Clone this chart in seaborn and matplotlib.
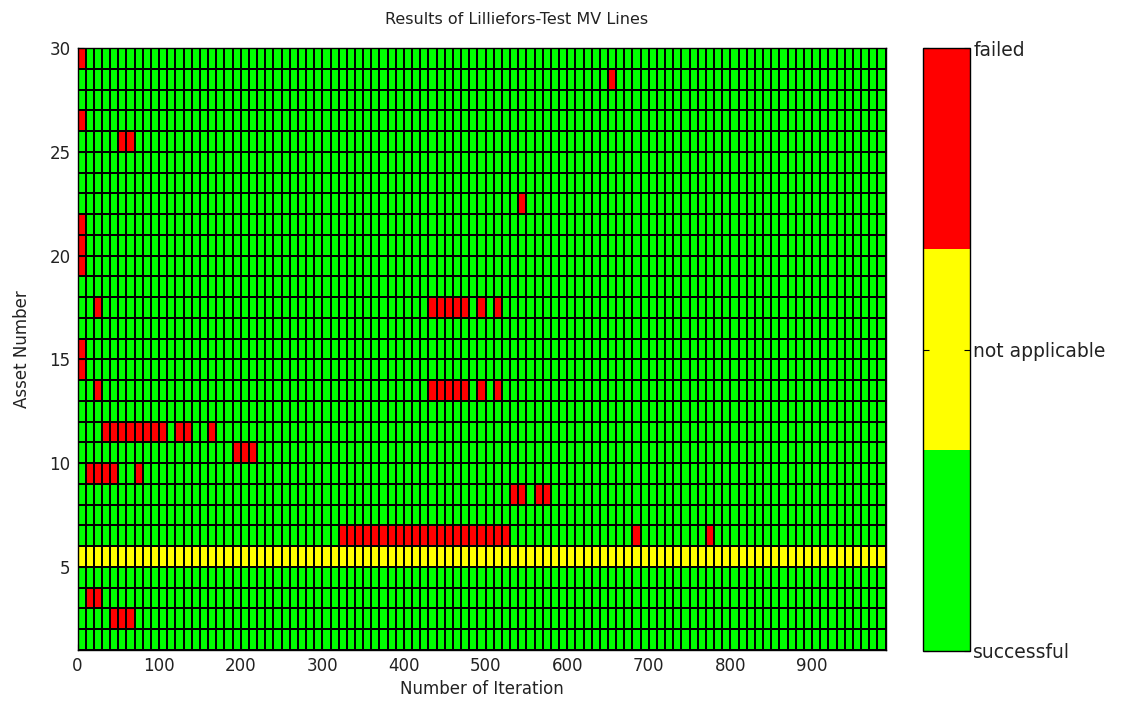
import numpy as np
import pandas as pd
import matplotlib
matplotlib.use("Agg")
import matplotlib.pyplot as plt
import seaborn as sns
from matplotlib.colors import ListedColormap

# ---- data -------------------------------------------------------------
# start value of every iteration cell (cells are 10 iterations wide, 0..990)
iteration_starts = list(range(0, 990, 10))
assets = list(range(29, 0, -1))          # top row first

# status codes: 1 = successful, 2 = not applicable, 3 = failed
status_labels = ["successful", "not applicable", "failed"]

not_applicable_assets = [5]

failed_asset_29 = [0]
failed_asset_28 = [650]
failed_asset_26 = [0]
failed_asset_25 = [50, 60]
failed_asset_22 = [540]
failed_asset_21 = [0]
failed_asset_20 = [0]
failed_asset_19 = [0]
failed_asset_17 = [20, 430, 440, 450, 460, 470, 490, 510]
failed_asset_15 = [0]
failed_asset_14 = [0]
failed_asset_13 = [20, 430, 440, 450, 460, 470, 490, 510]
failed_asset_11 = [30, 40, 50, 60, 70, 80, 90, 100, 120, 130, 160]
failed_asset_10 = [190, 200, 210]
failed_asset_9 = [10, 20, 30, 40, 70]
failed_asset_8 = [530, 540, 560, 570]
failed_asset_6 = [320, 330, 340, 350, 360, 370, 380, 390, 400, 410, 420,
                  430, 440, 450, 460, 470, 480, 490, 500, 510, 520, 680, 770]
failed_asset_3 = [10, 20]
failed_asset_2 = [40, 50, 60]

failed_by_asset = {
    29: failed_asset_29, 28: failed_asset_28, 26: failed_asset_26,
    25: failed_asset_25, 22: failed_asset_22, 21: failed_asset_21,
    20: failed_asset_20, 19: failed_asset_19, 17: failed_asset_17,
    15: failed_asset_15, 14: failed_asset_14, 13: failed_asset_13,
    11: failed_asset_11, 10: failed_asset_10, 9: failed_asset_9,
    8: failed_asset_8, 6: failed_asset_6, 3: failed_asset_3, 2: failed_asset_2,
}

x_tick_values = [0, 100, 200, 300, 400, 500, 600, 700, 800, 900]
y_tick_values = [30, 25, 20, 15, 10, 5]

# ---- build matrix -------------------------------------------------------
status = pd.DataFrame(1, index=assets, columns=iteration_starts)
for a in not_applicable_assets:
    status.loc[a, :] = 2
for a, its in failed_by_asset.items():
    status.loc[a, its] = 3

# ---- plot -------------------------------------------------------------
plt.rcParams["font.family"] = ["DejaVu Sans"]
fig = plt.figure(figsize=(11.22, 7.14), dpi=100)
W, H = 1122, 714
ax = fig.add_axes([77.5 / W, 1 - 650 / H, 808 / W, 602 / H])
cax = fig.add_axes([922.5 / W, 1 - 651 / H, 48 / W, 603 / H])

cmap = ListedColormap(["#00ff00", "#ffff00", "#ff0000"])
sns.heatmap(status, ax=ax, cbar_ax=cax, cmap=cmap, vmin=1, vmax=3,
            linewidths=1.2, linecolor="black",
            xticklabels=False, yticklabels=False)

cell_w = iteration_starts[1] - iteration_starts[0]
top_edge = assets[0] + 1
ax.set_xticks([v / cell_w for v in x_tick_values])
ax.set_xticklabels([str(v) for v in x_tick_values], fontsize=12, rotation=0)
ax.set_yticks([top_edge - v for v in y_tick_values])
ax.set_yticklabels([str(v) for v in y_tick_values], fontsize=12, rotation=0)
ax.tick_params(axis="both", direction="in", length=4, color="black", pad=5,
               labelcolor="#222222")
for s in ax.spines.values():
    s.set_visible(True)
    s.set_color("black")
    s.set_linewidth(1.0)

ax.set_title("Results of Lilliefors-Test MV Lines", fontsize=11.5, pad=17,
             x=0.544, color="#222222")
ax.set_xlabel("Number of Iteration", fontsize=12, labelpad=4, color="#222222")
ax.set_ylabel("Asset Number", fontsize=12, labelpad=13, color="#222222")

cbar = ax.collections[0].colorbar
cbar.set_ticks([1, 2, 3])
cbar.set_ticklabels(status_labels)
cbar.ax.tick_params(direction="in", left=True, right=True, length=4,
                    labelsize=13.5, pad=2, labelcolor="#222222")
cbar.outline.set_edgecolor("black")
cbar.outline.set_linewidth(1.0)

fig.savefig("out.png", dpi=100)
